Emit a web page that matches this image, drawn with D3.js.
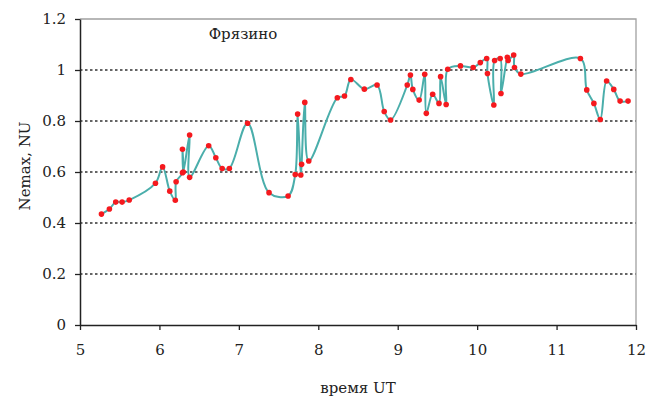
<!DOCTYPE html>
<html>
<head>
<meta charset="utf-8">
<script src="https://cdn.jsdelivr.net/npm/d3@7"></script>
<style>
  body { margin: 0; background: #fff; }
  text { font-family: "DejaVu Serif", "Liberation Serif", serif; fill: #222; }
</style>
</head>
<body>
<svg id="plot"></svg>
<script>
// time UT (hours) and Nemax (NU)
var times = [5.27, 5.37, 5.45, 5.53, 5.62, 5.95, 6.04, 6.13, 6.20, 6.21, 6.29, 6.29, 6.30,
  6.38, 6.38, 6.62, 6.71, 6.79, 6.88, 7.11, 7.38, 7.62, 7.71, 7.74, 7.78, 7.79, 7.83,
  7.88, 8.24, 8.33, 8.41, 8.58, 8.74, 8.83, 8.91, 9.12, 9.16, 9.19, 9.27, 9.34, 9.36,
  9.44, 9.52, 9.54, 9.61, 9.63, 9.79, 9.95, 10.04, 10.12, 10.13, 10.21, 10.22, 10.29,
  10.30, 10.38, 10.39, 10.46, 10.47, 10.55, 11.30, 11.38, 11.47, 11.55, 11.63, 11.72,
  11.80, 11.90];
var nemax = [0.435, 0.455, 0.482, 0.482, 0.49, 0.556, 0.62, 0.525, 0.489, 0.562, 0.597, 0.689, 0.60,
  0.745, 0.579, 0.703, 0.656, 0.614, 0.614, 0.791, 0.519, 0.506, 0.59, 0.827, 0.588, 0.63, 0.873,
  0.643, 0.891, 0.898, 0.963, 0.925, 0.941, 0.837, 0.804, 0.941, 0.98, 0.924, 0.882, 0.983, 0.83,
  0.905, 0.869, 0.974, 0.865, 1.003, 1.016, 1.01, 1.029, 1.045, 0.986, 0.863, 1.037, 1.045,
  0.908, 1.05, 1.037, 1.059, 1.01, 0.984, 1.045, 0.922, 0.869, 0.806, 0.957, 0.924,
  0.878, 0.878];
var xTicks = [5, 6, 7, 8, 9, 10, 11, 12];
var yTicks = [0, 0.2, 0.4, 0.6, 0.8, 1, 1.2];

var width = 647, height = 400;
var margin = {top: 19, right: 11, bottom: 75, left: 80};

var svg = d3.select("#plot")
    .attr("width", width)
    .attr("height", height);

var xScale = d3.scaleLinear()
    .domain([5, 12])
    .range([margin.left, width - margin.right]);
var yScale = d3.scaleLinear()
    .domain([0, 1.2])
    .range([height - margin.bottom, margin.top]);

var data = times.map(function(t, i) { return {x: t, y: nemax[i]}; });

// dotted grid lines
svg.append("g")
  .selectAll("line")
  .data(yTicks.filter(d => d > 0 && d < 1.2))
  .join("line")
    .attr("x1", xScale(5))
    .attr("x2", xScale(12))
    .attr("y1", d => yScale(d))
    .attr("y2", d => yScale(d))
    .attr("stroke", "#333")
    .attr("stroke-width", 1.5)
    .attr("stroke-dasharray", "2.5,2.5");

// light frame top/right
svg.append("path")
    .attr("d", "M" + xScale(5) + "," + yScale(1.2) + "H" + xScale(12) + "V" + yScale(0))
    .attr("fill", "none")
    .attr("stroke", "#a0a0a0")
    .attr("stroke-width", 1.3);

var xAxis = svg.append("g")
    .attr("transform", "translate(0," + yScale(0) + ")")
    .call(d3.axisBottom(xScale).tickValues(xTicks).tickSize(5).tickPadding(14)
      .tickFormat(d3.format("d")).tickSizeOuter(0));
var yAxis = svg.append("g")
    .attr("transform", "translate(" + xScale(5) + ",0)")
    .call(d3.axisLeft(yScale).tickValues(yTicks).tickSize(5).tickPadding(9)
      .tickFormat(d => d3.format("")(d)).tickSizeOuter(0));

[xAxis, yAxis].forEach(function(ax) {
  ax.selectAll("text").attr("font-size", 15).attr("font-family", "DejaVu Serif").attr("fill", "#333");
  ax.selectAll("line").attr("stroke", "#222").attr("stroke-width", 1.3);
  ax.select(".domain").attr("stroke", "#222").attr("stroke-width", 1.5);
});

var line = d3.line()
    .x(d => xScale(d.x))
    .y(d => yScale(d.y))
    .curve(d3.curveCatmullRom.alpha(0.5));

svg.append("path")
    .datum(data)
    .attr("fill", "none")
    .attr("stroke", "#4aaeab")
    .attr("stroke-width", 2)
    .attr("stroke-linejoin", "round")
    .attr("d", line);

svg.append("g")
  .selectAll("circle")
  .data(data)
  .join("circle")
    .attr("cx", d => xScale(d.x))
    .attr("cy", d => yScale(d.y))
    .attr("r", 2.8)
    .attr("fill", "#f5191e");

svg.append("text")
    .attr("x", 243)
    .attr("y", 39)
    .attr("text-anchor", "middle")
    .attr("font-size", 15)
    .text("Фрязино");

svg.append("text")
    .attr("x", (xScale(5) + xScale(12)) / 2)
    .attr("y", 393)
    .attr("text-anchor", "middle")
    .attr("font-size", 15)
    .text("время UT");

svg.append("text")
    .attr("transform", "translate(30," + (yScale(0.6) - 6) + ") rotate(-90)")
    .attr("text-anchor", "middle")
    .attr("font-size", 15)
    .text("Nemax, NU");
</script>
</body>
</html>
